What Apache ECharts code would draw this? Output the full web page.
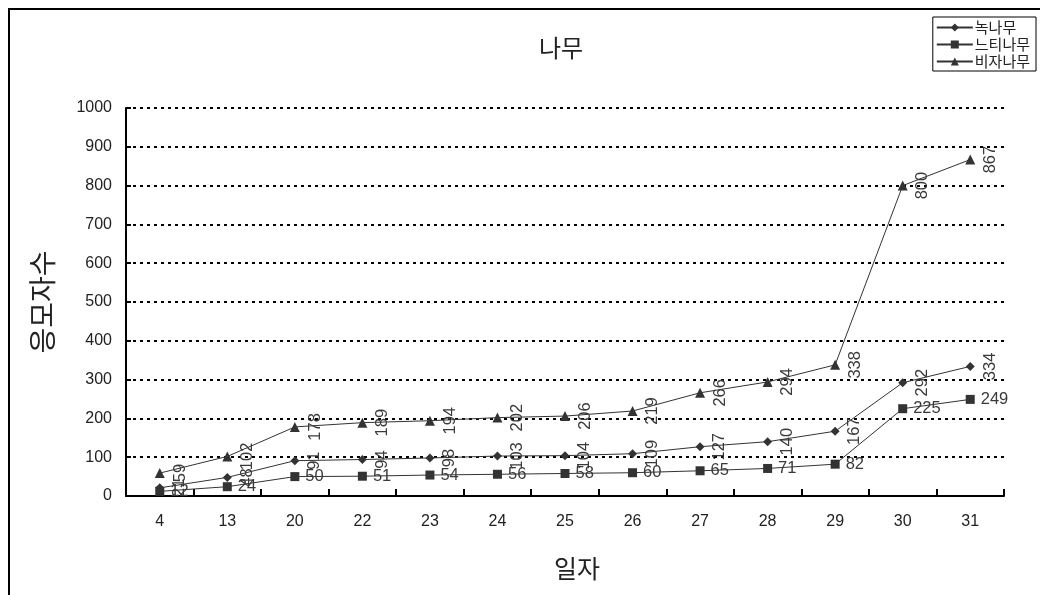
<!DOCTYPE html>
<html>
<head>
<meta charset="utf-8">
<script src="https://cdn.jsdelivr.net/npm/echarts@6/dist/echarts.min.js"></script>
<style>
  html, body { margin: 0; padding: 0; background: #fff; }
  #chart { width: 1040px; height: 595px; }
</style>
</head>
<body>
<div id="chart"></div>
<script>
// Days of the count (x categories)
var days = ['4', '13', '20', '22', '23', '24', '25', '26', '27', '28', '29', '30', '31'];
// Cumulative applicant counts per tree
var noknamu = [21, 48, 91, 94, 98, 103, 104, 109, 127, 140, 167, 292, 334];
var neutinamu = [12, 24, 50, 51, 54, 56, 58, 60, 65, 71, 82, 225, 249];
var bijanamu = [59, 102, 178, 189, 194, 202, 206, 219, 266, 294, 338, 800, 867];
var seriesNames = ['녹나무', '느티나무', '비자나무'];

var FONT = '"Liberation Sans", "Noto Sans CJK KR", sans-serif';
var KFONT = '"Noto Sans CJK KR", "Liberation Sans", sans-serif';
var INK = '#333333';

var rotatedLabel = {
  show: true,
  position: 'right',
  distance: 7,
  rotate: 90,
  align: 'center',
  verticalAlign: 'top',
  fontFamily: FONT,
  fontSize: 16.5,
  color: '#3a3a3a'
};
var flatLabel = {
  show: true,
  position: 'right',
  distance: 6,
  fontFamily: FONT,
  fontSize: 16.5,
  color: '#3a3a3a'
};

function lineSeries(name, data, symbol, size, label) {
  return {
    name: name,
    type: 'line',
    data: data,
    symbol: symbol,
    symbolSize: size,
    showSymbol: true,
    lineStyle: { color: INK, width: 1 },
    itemStyle: { color: INK, borderWidth: 0 },
    label: label,
    emphasis: { disabled: true },
    animation: false
  };
}

var chart = echarts.init(document.getElementById('chart'), null, { renderer: 'canvas' });
chart.setOption({
  backgroundColor: '#ffffff',
  animation: false,
  title: {
    text: '나무',
    left: 556,
    top: 31,
    textAlign: 'center',
    textStyle: { fontFamily: KFONT, fontSize: 24, fontWeight: 'normal', color: '#222' }
  },
  graphic: [{
    type: 'rect',
    shape: { x: 9, y: 9, width: 1040, height: 600 },
    style: { fill: 'none', stroke: '#000', lineWidth: 2 },
    silent: true
  }],
  legend: {
    data: seriesNames,
    orient: 'vertical',
    right: 4,
    top: 17,
    padding: [3, 6, 2, 3],
    itemGap: 2,
    itemWidth: 36,
    itemHeight: 10,
    borderColor: '#000',
    borderWidth: 1,
    backgroundColor: '#fff',
    textStyle: { fontFamily: KFONT, fontSize: 15, color: '#222', padding: [0, 0, 0, -3] }
  },
  grid: { left: 126, right: 36, top: 108, bottom: 99, containLabel: false },
  xAxis: {
    type: 'category',
    data: days,
    boundaryGap: true,
    name: '일자',
    nameLocation: 'middle',
    nameGap: 60,
    nameTextStyle: { fontFamily: KFONT, fontSize: 25, color: '#222', padding: [0, 0, 0, 24] },
    axisLine: { lineStyle: { color: '#000', width: 2 } },
    axisTick: { show: true, inside: true, length: 7, lineStyle: { color: '#000', width: 2 } },
    axisLabel: { fontFamily: FONT, fontSize: 16, color: '#222', margin: 18 },
    splitLine: { show: false }
  },
  yAxis: {
    type: 'value',
    min: 0,
    max: 1000,
    interval: 100,
    name: '응모자수',
    nameLocation: 'middle',
    nameGap: 70,
    nameRotate: 90,
    nameTextStyle: { fontFamily: KFONT, fontSize: 28, color: '#222' },
    axisLine: { show: true, lineStyle: { color: '#000', width: 2 } },
    axisTick: { show: true, inside: true, length: 5, lineStyle: { color: '#000', width: 2 } },
    axisLabel: { fontFamily: FONT, fontSize: 16, color: '#222', margin: 14, formatter: function (v) { return String(v); } },
    splitLine: { show: true, lineStyle: { color: '#000', width: 2, type: [3, 4] } }
  },
  series: [
    lineSeries(seriesNames[0], noknamu, 'diamond', 9, rotatedLabel),
    lineSeries(seriesNames[1], neutinamu, 'rect', 9, flatLabel),
    lineSeries(seriesNames[2], bijanamu, 'triangle', 10, rotatedLabel)
  ]
});
</script>
</body>
</html>
